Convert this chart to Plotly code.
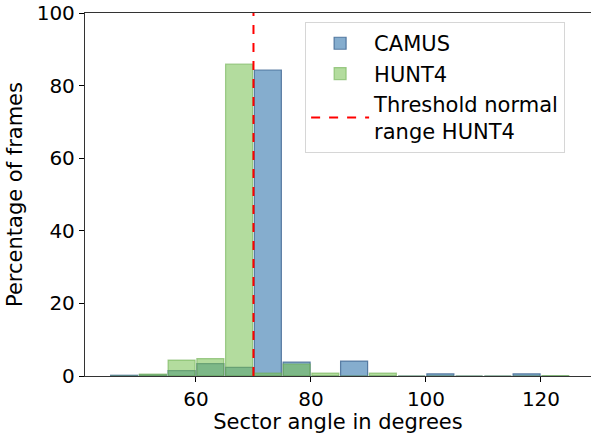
import plotly.graph_objects as go

# Histogram bins (5-degree bins from 45 to 125), given by their centres
bin_centers = [47.5, 52.5, 57.5, 62.5, 67.5, 72.5, 77.5, 82.5, 87.5,
               92.5, 97.5, 102.5, 107.5, 112.5, 117.5, 122.5]

# Percentage of frames per bin
camus_pct = [0.2, 0.3, 1.5, 3.4, 2.4, 84.3, 3.8, 0.0, 4.1,
             0.0, 0.0, 0.6, 0.0, 0.0, 0.6, 0.0]
hunt4_pct = [0.0, 0.5, 4.4, 4.8, 85.9, 0.8, 3.3, 0.8, 0.0,
             0.8, 0.0, 0.0, 0.0, 0.0, 0.0, 0.1]

threshold = 70
x_ticks = [60, 80, 100, 120]
y_ticks = [0, 20, 40, 60, 80, 100]

FONT = "DejaVu Sans"

fig = go.Figure()

fig.add_trace(go.Bar(
    x=bin_centers, y=camus_pct, width=4.7, name="CAMUS",
    marker=dict(color="rgba(70,130,180,0.66)",
                line=dict(color="rgba(60,100,145,0.8)", width=1.2)),
))
fig.add_trace(go.Bar(
    x=bin_centers, y=hunt4_pct, width=4.7, name="HUNT4",
    marker=dict(color="rgba(120,192,82,0.56)",
                line=dict(color="rgba(110,175,80,0.6)", width=1.2)),
))
fig.add_trace(go.Scatter(
    x=[threshold, threshold], y=[0, 100], mode="lines",
    name="Threshold normal<br>range HUNT4",
    line=dict(color="red", width=2, dash="dash"),
))

fig.update_layout(
    width=591, height=434,
    margin=dict(l=85, r=0, t=13, b=58),
    barmode="overlay",
    plot_bgcolor="white", paper_bgcolor="white",
    font=dict(family=FONT, size=20, color="black"),
    showlegend=True,
    legend=dict(
        x=0.435, y=0.975, xanchor="left", yanchor="top",
        bgcolor="white", bordercolor="#d6d6d6", borderwidth=1,
        font=dict(family=FONT, size=21),
        traceorder="normal", itemwidth=58,
    ),
)

fig.update_xaxes(
    range=[40.7, 128.7], tickvals=x_ticks,
    showgrid=False, zeroline=False,
    showline=True, linecolor="#333333", linewidth=1.3, mirror=True,
    ticks="outside", ticklen=5, tickcolor="black",
    tickfont=dict(size=20),
    title=dict(text="Sector angle in degrees", font=dict(size=21), standoff=3),
    automargin=False,
)
fig.update_yaxes(
    range=[0, 100], tickvals=y_ticks,
    showgrid=False, zeroline=False,
    showline=True, linecolor="#333333", linewidth=1.3,
    ticks="outside", ticklen=5, tickcolor="black",
    tickfont=dict(size=20),
    title=dict(text="Percentage of frames", font=dict(size=21), standoff=8),
    automargin=False,
)

fig.write_html("out.html")
